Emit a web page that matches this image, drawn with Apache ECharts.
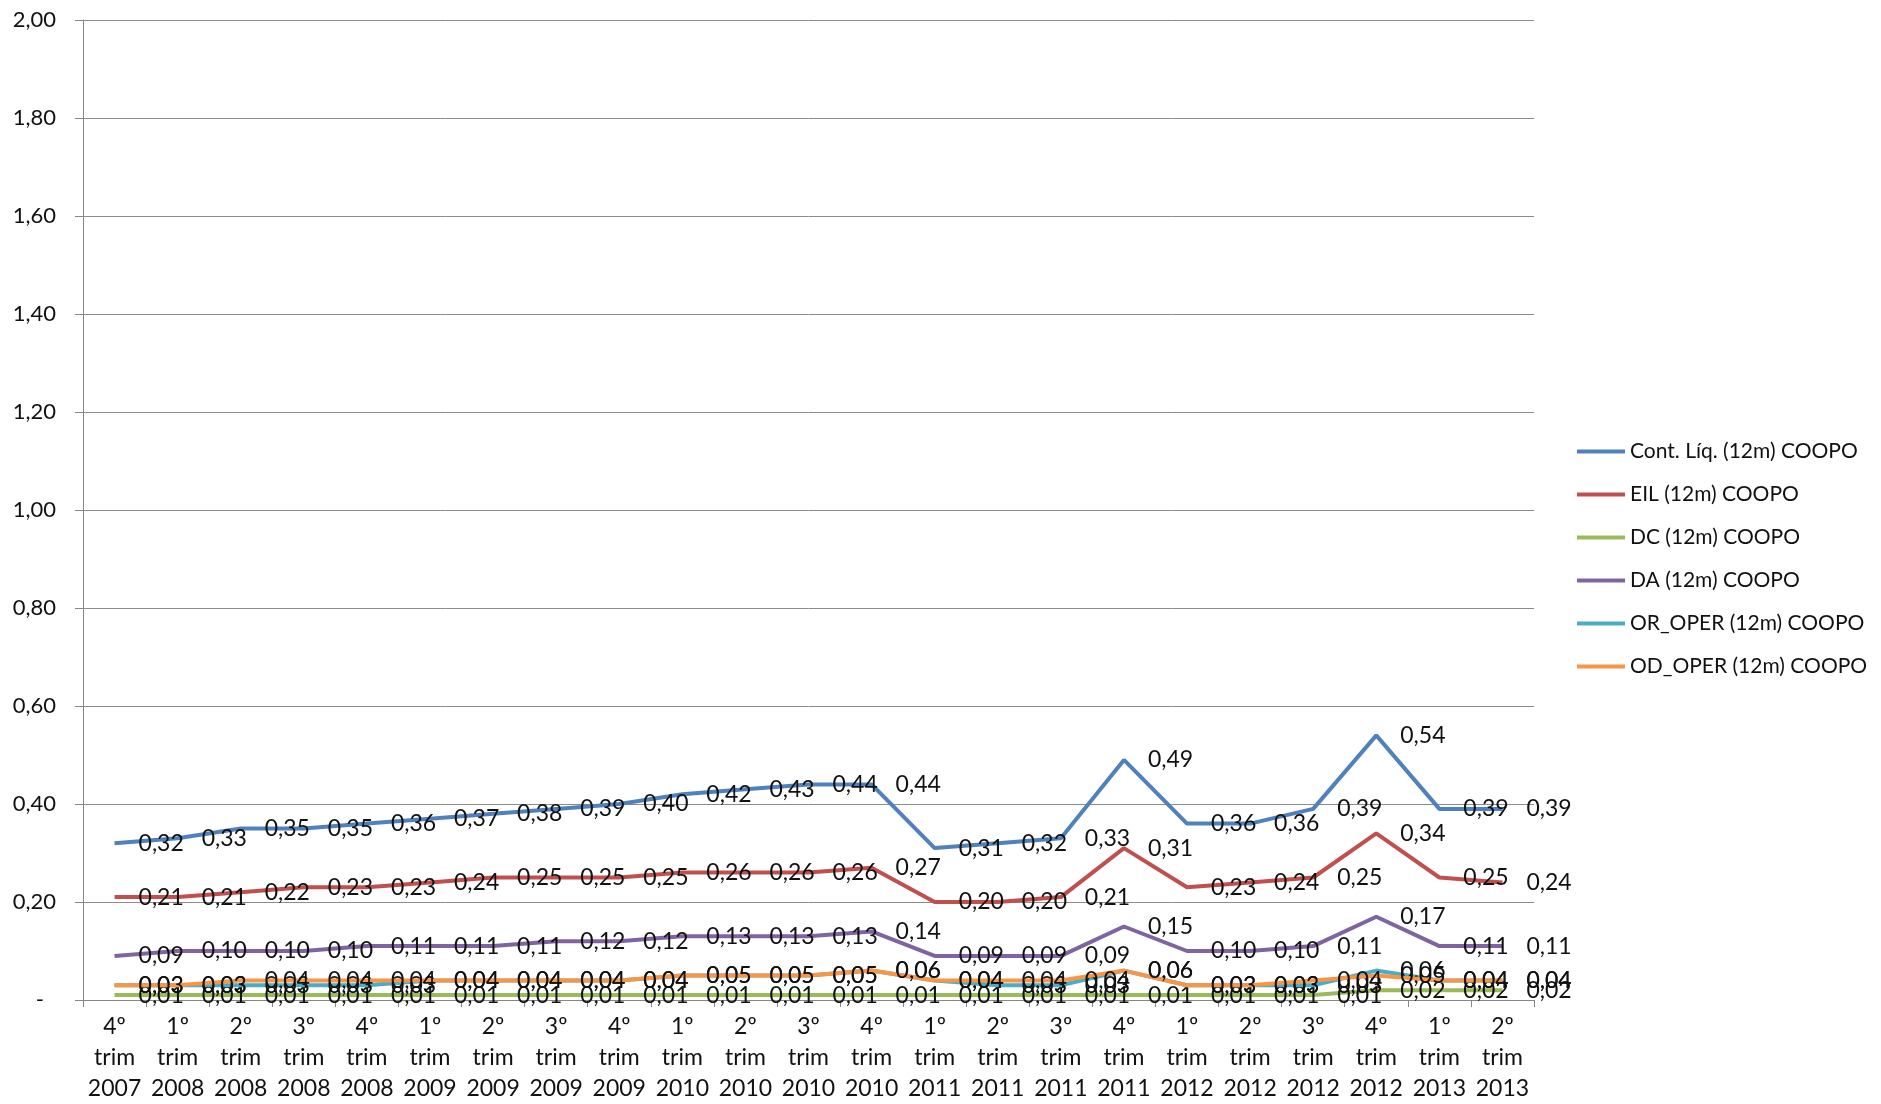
<!DOCTYPE html>
<html><head><meta charset="utf-8">
<script src="https://cdn.jsdelivr.net/npm/echarts@6/dist/echarts.min.js"></script>
<style>html,body{margin:0;padding:0;background:#fff}#c{width:1881px;height:1104px}</style>
</head><body><div id="c"></div>
<script>
const categories = [
  '4º\ntrim\n2007','1º\ntrim\n2008','2º\ntrim\n2008','3º\ntrim\n2008','4º\ntrim\n2008',
  '1º\ntrim\n2009','2º\ntrim\n2009','3º\ntrim\n2009','4º\ntrim\n2009',
  '1º\ntrim\n2010','2º\ntrim\n2010','3º\ntrim\n2010','4º\ntrim\n2010',
  '1º\ntrim\n2011','2º\ntrim\n2011','3º\ntrim\n2011','4º\ntrim\n2011',
  '1º\ntrim\n2012','2º\ntrim\n2012','3º\ntrim\n2012','4º\ntrim\n2012',
  '1º\ntrim\n2013','2º\ntrim\n2013'
];
const seriesNames = ['Cont. Líq. (12m) COOPO','EIL (12m) COOPO','DC (12m) COOPO','DA (12m) COOPO','OR_OPER (12m) COOPO','OD_OPER (12m) COOPO'];
const contLiq = [0.32,0.33,0.35,0.35,0.36,0.37,0.38,0.39,0.40,0.42,0.43,0.44,0.44,0.31,0.32,0.33,0.49,0.36,0.36,0.39,0.54,0.39,0.39];
const eil     = [0.21,0.21,0.22,0.23,0.23,0.24,0.25,0.25,0.25,0.26,0.26,0.26,0.27,0.20,0.20,0.21,0.31,0.23,0.24,0.25,0.34,0.25,0.24];
const dc      = [0.01,0.01,0.01,0.01,0.01,0.01,0.01,0.01,0.01,0.01,0.01,0.01,0.01,0.01,0.01,0.01,0.01,0.01,0.01,0.01,0.02,0.02,0.02];
const da      = [0.09,0.10,0.10,0.10,0.11,0.11,0.11,0.12,0.12,0.13,0.13,0.13,0.14,0.09,0.09,0.09,0.15,0.10,0.10,0.11,0.17,0.11,0.11];
const orOper  = [0.03,0.03,0.03,0.03,0.03,0.04,0.04,0.04,0.04,0.05,0.05,0.05,0.06,0.04,0.03,0.03,0.06,0.03,0.03,0.03,0.06,0.04,0.04];
const odOper  = [0.03,0.03,0.04,0.04,0.04,0.04,0.04,0.04,0.04,0.05,0.05,0.05,0.06,0.04,0.04,0.04,0.06,0.03,0.03,0.04,0.05,0.04,0.04];
const yTicks = { min: 0, max: 2, interval: 0.2 };

const colors = ['#4F81BD','#C0504D','#9BBB59','#8064A2','#4BACC6','#F79646'];
const FONT = 'Lato';
const fmt = v => v.toFixed(2).replace('.', ',');
const dataSets = [contLiq, eil, dc, da, orOper, odOper];

const chart = echarts.init(document.getElementById('c'), null, {renderer: 'canvas'});
chart.setOption({
  backgroundColor: '#ffffff',
  animation: false,
  color: colors,
  textStyle: { fontFamily: FONT },
  grid: { left: 83, right: 347, top: 20, bottom: 104, containLabel: false },
  legend: {
    orient: 'vertical',
    left: 1572, top: 436,
    itemWidth: 48, itemHeight: 4, itemGap: 22,
    icon: 'rect',
    textStyle: { fontFamily: FONT, fontSize: 21, color: '#111' },
    data: seriesNames
  },
  xAxis: {
    type: 'category',
    data: categories,
    boundaryGap: true,
    axisLine: { lineStyle: { color: '#868686', width: 1 } },
    axisTick: { show: true, length: 7, interval: 0, lineStyle: { color: '#868686' } },
    axisLabel: { interval: 0, margin: 11, fontFamily: FONT, fontSize: 23, lineHeight: 31, color: '#111' }
  },
  yAxis: {
    type: 'value',
    min: yTicks.min, max: yTicks.max, interval: yTicks.interval,
    axisLine: { show: true, lineStyle: { color: '#868686', width: 1 } },
    axisTick: { show: true, length: 8, lineStyle: { color: '#868686' } },
    splitLine: { lineStyle: { color: '#8c8c8c', width: 1 } },
    axisLabel: {
      margin: 27, fontFamily: FONT, fontSize: 22, color: '#111',
      formatter: v => v === 0 ? '{d|-}' : fmt(v),
      rich: { d: { fontFamily: FONT, fontSize: 22, color: '#111', padding: [0, 12, 0, 0] } }
    }
  },
  series: seriesNames.map((name, i) => ({
    name,
    type: 'line',
    data: dataSets[i],
    symbol: 'circle',
    symbolSize: 0,
    showSymbol: true,
    lineStyle: { width: 4, color: colors[i] },
    itemStyle: { color: colors[i] },
    z: 2 + i,
    label: {
      show: true,
      position: 'right',
      distance: 24,
      fontFamily: FONT,
      fontSize: 23,
      color: '#111',
      formatter: p => fmt(p.value)
    },
    emphasis: { disabled: true }
  }))
});
</script>
</body></html>
